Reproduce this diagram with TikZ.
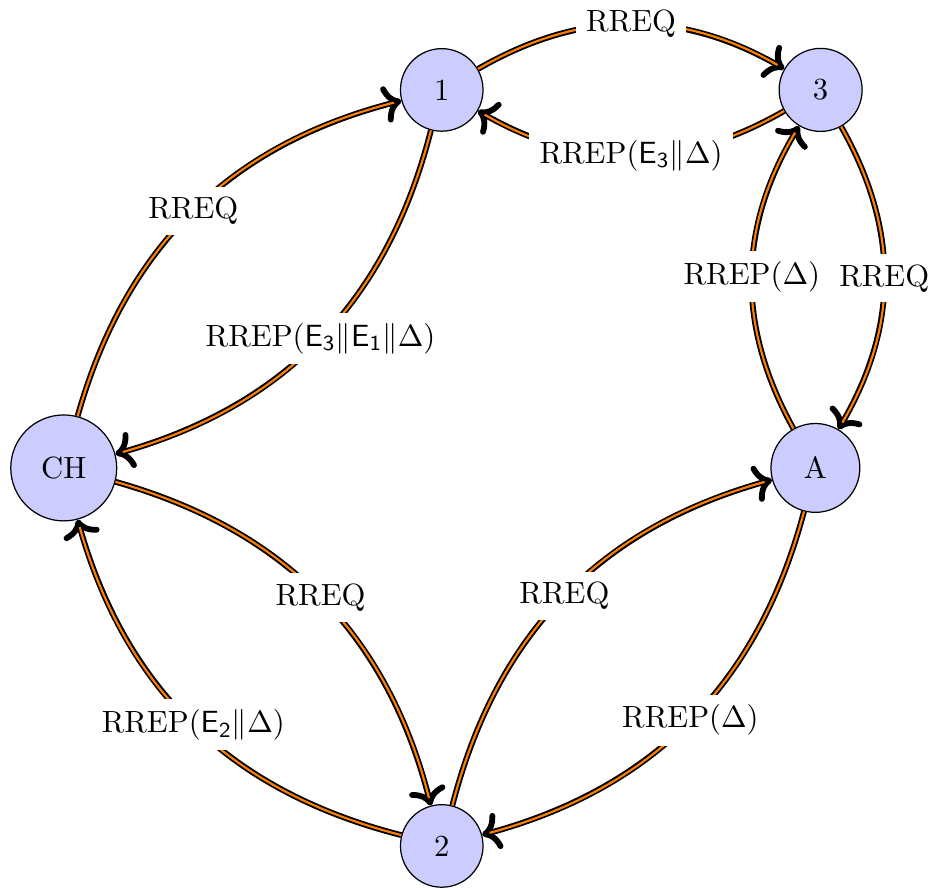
\documentclass[tikz,border=0pt]{standalone}
\usepackage{amsmath}
\usetikzlibrary{arrows.meta}
\tikzset{
  station/.style={circle, draw, fill=blue!20, inner sep=6.6pt},
  msg/.style={->, draw=black, line width=1.9pt, bend left=30,
    postaction={draw=orange, line width=0.7pt, -, shorten >=2.5pt}},
  tag/.style={fill=white}
}
\begin{document}
\begin{tikzpicture}
		%%%%% START %%%%%
		\useasboundingbox (-0.73, -4.81) rectangle (9.98, 5.36);
		
		\node[station] (CH) at (0, 0) {CH};
		\node[station] (n1) at (4.33, 4.33) {1};
		\node[station] (n3) at (8.67, 4.33) {3};
		\node[station] (A) at (8.61, 0) {A};
		\node[station] (n2) at (4.33, -4.33) {2};
		
		\draw[msg] (CH) to node[tag] {RREQ} (n1);
		\draw[msg] (n1) to node[tag] {RREP($\mathsf{E_3}\|\mathsf{E_1}\|\Delta$)} (CH);
		
		\draw[msg] (n1) to node[tag] {RREQ} (n3);
		\draw[msg] (n3) to node[tag] {RREP($\mathsf{E_3}\|\Delta$)} (n1);
		
		\draw[msg] (n3) to node[tag] {RREQ} (A);
		\draw[msg] (A) to node[tag] {RREP($\Delta$)} (n3);
		
		\draw[msg] (CH) to node[tag] {RREQ} (n2);
		\draw[msg] (n2) to node[tag] {RREP($\mathsf{E_2}\|\Delta$)} (CH);
		
		\draw[msg] (n2) to node[tag] {RREQ} (A);
		\draw[msg] (A) to node[tag] {RREP($\Delta$)} (n2);
		
		%%%%% END %%%%%
	\end{tikzpicture}
\end{document}
